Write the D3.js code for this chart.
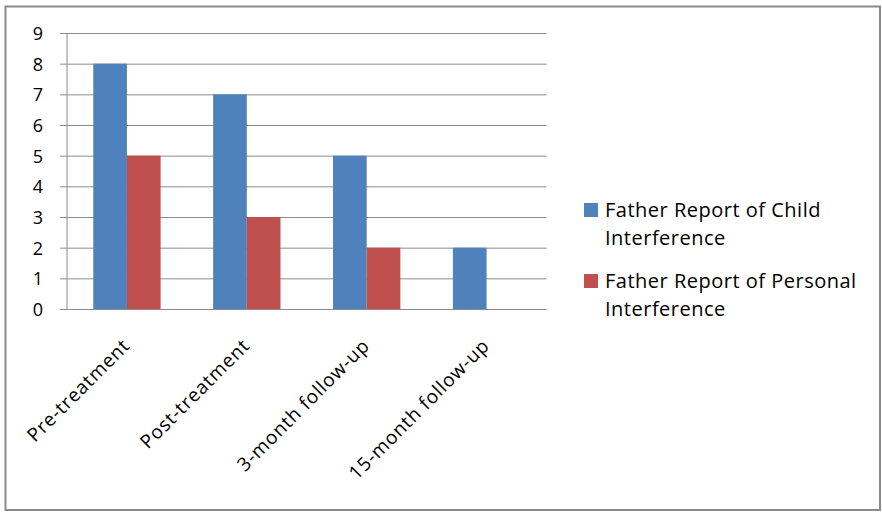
<!DOCTYPE html>
<html><head><meta charset="utf-8">
<script src="https://cdn.jsdelivr.net/npm/d3@7"></script>
<style>body{margin:0;background:#fff;} svg{display:block;} text{font-family:"Open Sans",sans-serif;fill:#000;}</style>
</head><body>
<svg id="c" width="882" height="514"></svg>
<script>
const categories = ["Pre-treatment","Post-treatment","3-month follow-up","15-month follow-up"];
const seriesNames = ["Father Report of Child Interference","Father Report of Personal Interference"];
const childValues = [8,7,5,2];
const personalValues = [5,3,2,0];
const yTicks = [0,1,2,3,4,5,6,7,8,9];
const colors = ["#4F81BD","#C0504D"];

const svg = d3.select("#c");
svg.append("rect").attr("x",5.5).attr("y",6.5).attr("width",874.5).attr("height",503.5)
  .attr("fill","#fff").attr("stroke","#8a8a8a").attr("stroke-width",2);

const L=67, R=546.5, T=33, B=309;
const x = d3.scaleBand().domain(categories).range([L,R]).paddingInner(0).paddingOuter(0);
const y = d3.scaleLinear().domain([0,9]).range([B,T]);
const xs = d3.scaleBand().domain([0,1]).range([0,x.bandwidth()]).paddingInner(0).paddingOuter(0.78);

// gridlines
const yAxis = d3.axisLeft(y).tickValues(yTicks).tickSize(-(R-L)).tickPadding(24);
const gy = svg.append("g").attr("transform",`translate(${L},0)`).call(yAxis);
gy.select(".domain").remove();
gy.selectAll(".tick line").attr("stroke","#8c8c8c").attr("stroke-width",1).attr("x1",-7);
gy.selectAll(".tick text").attr("font-size",18).attr("font-family","Open Sans").attr("fill","#000").attr("dy","0.36em");

const data = categories.map((c,i)=>({c, v:[childValues[i], personalValues[i]]}));
const g = svg.append("g");
data.forEach(d=>{
  d.v.forEach((v,j)=>{
    if(v<=0) return;
    g.append("rect").attr("x",x(d.c)+xs(j)).attr("width",xs.bandwidth())
      .attr("y",y(v)).attr("height",y(0)-y(v)).attr("fill",colors[j]);
  });
});
// axis lines
svg.append("line").attr("x1",L).attr("x2",L).attr("y1",T).attr("y2",B).attr("stroke","#8c8c8c");
svg.append("line").attr("x1",L-7).attr("x2",R).attr("y1",B+0.5).attr("y2",B+0.5).attr("stroke","#8c8c8c");

// x labels
const xAxis = d3.axisBottom(x).tickSize(0).tickPadding(0);
const gx = svg.append("g").attr("transform",`translate(0,${B})`).call(xAxis);
gx.select(".domain").remove();
gx.selectAll(".tick text").attr("font-size",19).attr("font-family","Open Sans").attr("fill","#000")
  .attr("letter-spacing","0.8px")
  .attr("text-anchor","end").attr("dy",0).attr("y",0)
  .attr("transform","translate(4,38) rotate(-45)");

// legend
const legendLines = [["Father Report of Child","Interference"],["Father Report of Personal","Interference"]];
const lg = svg.append("g");
legendLines.forEach((lines,i)=>{
  const y0 = 203 + i*71;
  lg.append("rect").attr("x",584).attr("y",y0).attr("width",14).attr("height",14).attr("fill",colors[i]);
  lines.forEach((t,k)=>{
    lg.append("text").attr("x",605).attr("y",y0+14+k*27.5).attr("font-size",20)
      .attr("letter-spacing","0.5px").text(t);
  });
});
</script>
</body></html>
